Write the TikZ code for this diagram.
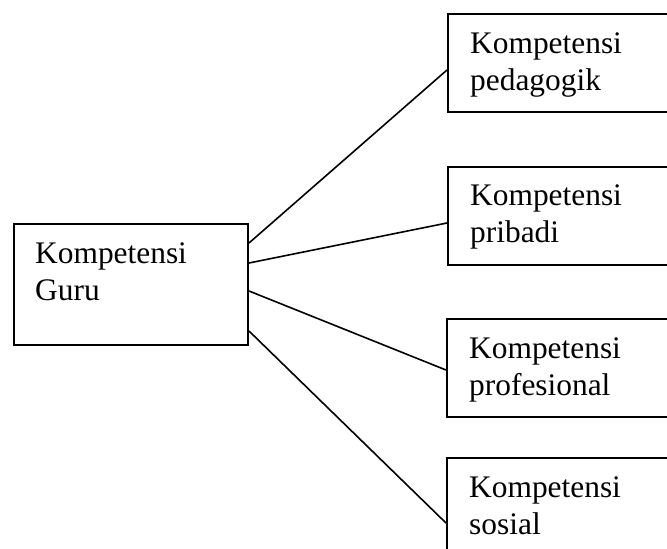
\documentclass[tikz,border=0pt]{standalone}
\usepackage{fontspec}
\setmainfont{Liberation Serif}
\begin{document}
\begin{tikzpicture}[x=1pt,y=-1pt,
  box/.style={draw=black,line width=2pt,rectangle,inner sep=0pt,anchor=north west},
  lbl/.style={anchor=base west,inner sep=0pt,font=\fontsize{31.4}{37}\selectfont,align=left},
  conn/.style={draw=black,line width=1.6pt}]
\useasboundingbox (0,0) rectangle (667,549);
\clip (0,0) rectangle (667,549);
\node[box,minimum width=234pt,minimum height=121pt] (g) at (13,223) {};
\node[lbl] (gt) at (35,300) {Kompetensi\\Guru};
\node[box,minimum width=240pt,minimum height=98pt] (p1) at (447,13) {};
\node[lbl] (t1) at (470,90) {Kompetensi\\pedagogik};
\node[box,minimum width=240pt,minimum height=98pt] (p2) at (447,166) {};
\node[lbl] (t2) at (470,242) {Kompetensi\\pribadi};
\node[box,minimum width=240pt,minimum height=98pt] (p3) at (446,318) {};
\node[lbl] (t3) at (469,395) {Kompetensi\\profesional};
\node[box,minimum width=240pt,minimum height=98pt] (p4) at (446,457) {};
\node[lbl] (t4) at (469,534) {Kompetensi\\sosial};
\draw[conn] ([yshift=-20pt]g.north east) -- ([yshift=-57pt]p1.north west);
\draw[conn] ([yshift=-40pt]g.north east) -- ([yshift=-57pt]p2.north west);
\draw[conn] ([yshift=-68pt]g.north east) -- ([yshift=-52pt]p3.north west);
\draw[conn] ([yshift=-108pt]g.north east) -- ([yshift=-66pt]p4.north west);
\end{tikzpicture}
\end{document}
